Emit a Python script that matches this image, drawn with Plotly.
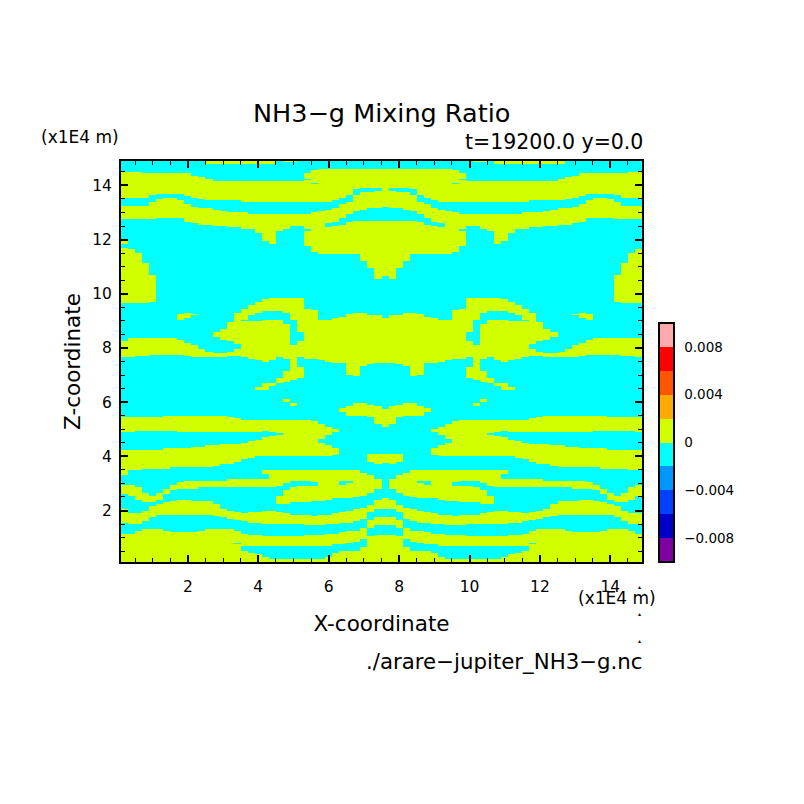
import numpy as np
import plotly.graph_objects as go

# --- data ---
# column centres along X (x1E4 m); each list below is one column, top to bottom,
# as pairs of Z values (top, bottom) between which the field is above zero
x_columns = [round(0.2 + 0.2 * i, 1) for i in range(74)]

yellow_spans = [
    [14.48,13.57, 13.26,12.77, 11.93,11.87, 11.72,9.65, 8.27,7.66, 5.46,4.91, 4.26,3.31, 2.97,2.59, 2.05,1.54, 1.16,0.1],
    [14.48,13.57, 13.26,12.77, 11.66,9.65, 8.33,7.67, 5.46,4.92, 4.24,3.48, 2.97,2.53, 1.91,1.48, 1.17,0.1],
    [14.48,13.57, 13.26,12.77, 11.48,9.65, 8.36,7.68, 5.46,4.93, 4.23,3.52, 2.87,2.38, 1.91,1.51, 1.24,0.1],
    [14.46,13.57, 13.26,12.77, 11.13,9.65, 8.36,7.71, 5.46,4.94, 4.24,3.55, 2.63,2.30, 1.99,1.58, 1.28,0.1],
    [14.46,13.66, 13.41,12.77, 10.70,9.71, 8.36,7.74, 5.46,4.94, 4.26,3.55, 2.53,2.28, 2.14,1.75, 1.31,0.1],
    [14.46,13.72, 13.52,12.79, 8.36,7.77, 5.47,4.96, 4.27,3.56, 2.63,2.41, 2.23,1.83, 1.30,0.1],
    [14.46,13.72, 13.55,12.78, 8.36,7.77, 5.49,4.94, 4.28,3.56, 2.81,2.59, 2.31,1.86, 1.27,0.1],
    [14.46,13.72, 13.55,12.78, 8.36,7.77, 5.49,4.93, 4.29,3.58, 2.94,2.73, 2.36,1.86, 1.22,0.1],
    [14.46,13.72, 13.47,12.78, 9.25,9.07, 8.30,7.76, 5.49,4.92, 4.30,3.59, 3.06,2.78, 2.38,1.86, 1.20,0.1],
    [14.43,13.60, 13.32,12.67, 9.28,9.10, 8.20,7.71, 5.49,4.92, 4.32,3.59, 3.08,2.80, 2.38,1.86, 1.20,0.1],
    [14.36,13.53, 13.19,12.62, 9.25,9.18, 8.09,7.66, 5.49,4.92, 4.34,3.60, 3.10,2.81, 2.37,1.86, 1.22,0.1],
    [14.29,13.48, 13.16,12.57, 7.93,7.63, 5.49,4.92, 4.37,3.61, 3.11,2.83, 2.36,1.86, 1.26,0.1],
    [14.9,14.82, 14.24,13.47, 13.13,12.54, 7.85,7.63, 5.49,4.92, 4.38,3.61, 3.11,2.83, 2.34,1.85, 1.30,0.1],
    [14.9,14.8, 14.17,13.47, 13.10,12.51, 8.60,8.42, 7.80,7.66, 5.49,4.92, 4.40,3.65, 3.12,2.83, 2.25,1.81, 1.30,0.1],
    [14.9,14.8, 14.17,13.46, 13.07,12.49, 8.69,8.32, 7.79,7.67, 5.49,4.92, 4.43,3.68, 3.12,2.83, 2.06,1.74, 1.30,0.1],
    [14.9,14.8, 14.17,13.46, 13.02,12.46, 8.94,8.25, 7.83,7.68, 5.44,4.92, 4.45,3.70, 3.13,2.83, 1.99,1.69, 1.29,0.1],
    [14.9,14.8, 14.17,13.43, 13.00,12.45, 9.28,8.14, 7.93,7.68, 5.40,4.92, 4.46,3.80, 3.13,2.85, 1.94,1.64, 1.25,0.82, 0.74,0.1],
    [14.9,14.8, 14.17,13.41, 12.98,12.42, 9.43,9.06, 9.00,7.64, 5.36,4.92, 4.49,3.89, 3.15,2.86, 1.91,1.58, 1.17,0.68, 0.51,0.1],
    [14.9,14.8, 14.17,13.41, 12.97,12.40, 9.62,9.18, 9.01,7.60, 5.35,4.92, 4.53,3.97, 3.15,2.87, 1.93,1.56, 1.12,0.68, 0.47,0.1],
    [14.9,14.8, 14.17,13.41, 12.95,12.26, 9.71,9.28, 9.02,7.55, 6.55,6.47, 5.34,4.92, 4.60,4.00, 3.15,2.87, 1.95,1.53, 1.09,0.68, 0.41,0.1],
    [14.9,14.8, 14.17,13.41, 12.94,11.93, 9.81,9.36, 9.04,7.52, 6.69,6.47, 5.34,4.93, 4.70,4.01, 3.52,3.37, 3.15,2.87, 1.99,1.52, 1.06,0.71, 0.29,0.1],
    [14.9,14.8, 14.17,13.41, 12.93,11.87, 9.86,9.37, 9.06,7.55, 6.72,6.60, 5.34,4.91, 4.76,4.02, 3.52,2.87, 2.01,1.51, 1.05,0.72, 0.20,0.1],
    [14.17,13.41, 12.93,12.30, 9.86,9.37, 9.06,7.65, 6.88,6.72, 5.34,4.86, 4.81,4.02, 3.52,2.90, 2.57,2.26, 1.94,1.50, 1.03,0.72, 0.20,0.1],
    [14.9,14.85, 14.17,13.41, 12.93,12.42, 9.86,9.32, 8.91,7.58, 7.15,6.76, 6.08,6.02, 5.34,4.02, 3.52,3.02, 2.75,2.26, 1.88,1.50, 1.03,0.72, 0.20,0.1],
    [14.9,14.85, 14.17,13.41, 12.93,12.49, 9.86,9.04, 8.11,6.79, 5.93,5.87, 5.34,4.02, 3.52,3.10, 2.87,2.28, 1.85,1.48, 1.03,0.72, 0.20,0.1],
    [14.17,13.41, 12.93,12.51, 9.86,8.61, 8.24,7.64, 7.31,6.90, 5.34,4.02, 3.52,3.10, 2.90,2.30, 1.85,1.48, 1.05,0.72, 0.20,0.1],
    [14.43,14.27, 14.19,13.41, 12.95,12.42, 12.30,11.75, 9.46,7.62, 5.33,4.02, 3.52,3.10, 2.90,2.31, 1.83,1.47, 1.08,0.71, 0.20,0.1],
    [14.56,14.09, 14.03,13.41, 13.00,11.56, 9.41,7.58, 5.28,4.02, 3.52,3.07, 2.90,2.33, 1.81,1.46, 1.10,0.70, 0.20,0.1],
    [14.58,13.41, 13.04,11.44, 9.04,7.55, 5.22,4.67, 4.51,4.02, 3.52,2.37, 1.83,1.45, 1.12,0.68, 0.20,0.1],
    [14.58,13.41, 13.08,12.58, 12.46,11.44, 9.07,7.51, 5.12,4.82, 4.39,4.02, 3.52,2.39, 1.85,1.51, 1.15,0.71, 0.32,0.1],
    [14.58,13.43, 13.13,12.66, 12.49,11.44, 9.10,7.47, 5.01,4.92, 4.29,4.05, 3.52,2.43, 1.89,1.52, 1.17,0.73, 0.45,0.1],
    [14.58,13.53, 13.32,12.79, 12.56,11.44, 9.16,7.43, 5.79,5.65, 3.52,3.11, 2.97,2.46, 1.94,1.53, 1.21,0.77, 0.51,0.1],
    [14.58,13.66, 13.41,12.95, 12.63,11.44, 9.26,7.00, 5.86,5.52, 3.52,3.10, 2.99,2.47, 1.99,1.54, 1.25,0.82, 0.51,0.1],
    [14.58,13.84, 13.63,13.05, 12.68,11.44, 9.32,6.94, 5.93,5.52, 3.48,2.49, 2.04,1.59, 1.27,0.87, 0.51,0.1],
    [14.58,13.88, 13.74,13.10, 12.70,11.19, 9.28,7.35, 5.93,5.52, 3.40,2.53, 2.10,1.69, 1.35,0.95, 0.66,0.1],
    [14.58,13.88, 13.77,13.13, 12.70,10.95, 9.22,7.41, 5.89,5.44, 4.11,3.82, 3.31,2.63, 2.22,1.96, 1.67,1.33, 1.03,0.1],
    [14.58,13.88, 13.78,13.15, 12.70,10.55, 9.20,7.46, 5.84,5.22, 4.11,3.70, 3.15,2.81, 2.38,2.05, 1.77,1.43, 1.12,0.1],
    [14.60,13.18, 12.70,10.66, 9.10,7.46, 5.77,5.09, 4.11,3.73, 2.47,2.05, 1.77,1.43, 1.12,0.1],
    [14.58,13.88, 13.78,13.15, 12.70,10.55, 9.20,7.46, 5.84,5.22, 4.11,3.70, 3.15,2.81, 2.38,2.05, 1.77,1.43, 1.12,0.1],
    [14.58,13.88, 13.77,13.13, 12.70,10.95, 9.22,7.41, 5.89,5.44, 4.11,3.82, 3.31,2.63, 2.22,1.96, 1.67,1.33, 1.03,0.1],
    [14.58,13.88, 13.74,13.10, 12.70,11.19, 9.28,7.35, 5.93,5.52, 3.40,2.53, 2.10,1.69, 1.35,0.95, 0.66,0.1],
    [14.58,13.84, 13.63,13.05, 12.68,11.44, 9.32,6.94, 5.93,5.52, 3.48,2.49, 2.04,1.59, 1.27,0.87, 0.51,0.1],
    [14.58,13.66, 13.41,12.95, 12.63,11.44, 9.26,7.00, 5.86,5.52, 3.52,3.10, 2.99,2.47, 1.99,1.54, 1.25,0.82, 0.51,0.1],
    [14.58,13.53, 13.32,12.79, 12.56,11.44, 9.16,7.43, 5.79,5.65, 3.52,3.11, 2.97,2.46, 1.94,1.53, 1.21,0.77, 0.51,0.1],
    [14.58,13.43, 13.13,12.66, 12.49,11.44, 9.10,7.47, 5.01,4.92, 4.29,4.05, 3.52,2.43, 1.89,1.52, 1.17,0.73, 0.45,0.1],
    [14.58,13.41, 13.08,12.58, 12.46,11.44, 9.07,7.51, 5.12,4.82, 4.39,4.02, 3.52,2.39, 1.85,1.51, 1.15,0.71, 0.32,0.1],
    [14.58,13.41, 13.04,11.44, 9.04,7.55, 5.22,4.67, 4.51,4.02, 3.52,2.37, 1.83,1.45, 1.12,0.68, 0.20,0.1],
    [14.56,14.09, 14.03,13.41, 13.00,11.56, 9.41,7.58, 5.28,4.02, 3.52,3.07, 2.90,2.33, 1.81,1.46, 1.10,0.70, 0.20,0.1],
    [14.43,14.27, 14.19,13.41, 12.95,12.42, 12.30,11.75, 9.46,7.62, 5.33,4.02, 3.52,3.10, 2.90,2.31, 1.83,1.47, 1.08,0.71, 0.20,0.1],
    [14.17,13.41, 12.93,12.51, 9.86,8.61, 8.24,7.64, 7.31,6.90, 5.34,4.02, 3.52,3.10, 2.90,2.30, 1.85,1.48, 1.05,0.72, 0.20,0.1],
    [14.9,14.85, 14.17,13.41, 12.93,12.49, 9.86,9.04, 8.11,6.79, 5.93,5.87, 5.34,4.02, 3.52,3.10, 2.87,2.28, 1.85,1.48, 1.03,0.72, 0.20,0.1],
    [14.9,14.85, 14.17,13.41, 12.93,12.42, 9.86,9.32, 8.91,7.58, 7.15,6.76, 6.08,6.02, 5.34,4.02, 3.52,3.02, 2.75,2.26, 1.88,1.50, 1.03,0.72, 0.20,0.1],
    [14.17,13.41, 12.93,12.30, 9.86,9.37, 9.06,7.65, 6.88,6.72, 5.34,4.86, 4.81,4.02, 3.52,2.90, 2.57,2.26, 1.94,1.50, 1.03,0.72, 0.20,0.1],
    [14.9,14.8, 14.17,13.41, 12.93,11.87, 9.86,9.37, 9.06,7.55, 6.72,6.60, 5.34,4.91, 4.76,4.02, 3.52,2.87, 2.01,1.51, 1.05,0.72, 0.20,0.1],
    [14.9,14.8, 14.17,13.41, 12.94,11.93, 9.81,9.36, 9.04,7.52, 6.69,6.47, 5.34,4.93, 4.70,4.01, 3.52,3.37, 3.15,2.87, 1.99,1.52, 1.06,0.71, 0.29,0.1],
    [14.9,14.8, 14.17,13.41, 12.95,12.26, 9.71,9.28, 9.02,7.55, 6.55,6.47, 5.34,4.92, 4.60,4.00, 3.15,2.87, 1.95,1.53, 1.09,0.68, 0.41,0.1],
    [14.9,14.8, 14.17,13.41, 12.97,12.40, 9.62,9.18, 9.01,7.60, 5.35,4.92, 4.53,3.97, 3.15,2.87, 1.93,1.56, 1.12,0.68, 0.47,0.1],
    [14.9,14.8, 14.17,13.41, 12.98,12.42, 9.43,9.06, 9.00,7.64, 5.36,4.92, 4.49,3.89, 3.15,2.86, 1.91,1.58, 1.17,0.68, 0.51,0.1],
    [14.9,14.8, 14.17,13.43, 13.00,12.45, 9.28,8.14, 7.93,7.68, 5.40,4.92, 4.46,3.80, 3.13,2.85, 1.94,1.64, 1.25,0.82, 0.74,0.1],
    [14.9,14.8, 14.17,13.46, 13.02,12.46, 8.94,8.25, 7.83,7.68, 5.44,4.92, 4.45,3.70, 3.13,2.83, 1.99,1.69, 1.29,0.1],
    [14.9,14.8, 14.17,13.46, 13.07,12.49, 8.69,8.32, 7.79,7.67, 5.49,4.92, 4.43,3.68, 3.12,2.83, 2.06,1.74, 1.30,0.1],
    [14.9,14.8, 14.17,13.47, 13.10,12.51, 8.60,8.42, 7.80,7.66, 5.49,4.92, 4.40,3.65, 3.12,2.83, 2.25,1.81, 1.30,0.1],
    [14.9,14.82, 14.24,13.47, 13.13,12.54, 7.85,7.63, 5.49,4.92, 4.38,3.61, 3.11,2.83, 2.34,1.85, 1.30,0.1],
    [14.29,13.48, 13.16,12.57, 7.93,7.63, 5.49,4.92, 4.37,3.61, 3.11,2.83, 2.36,1.86, 1.26,0.1],
    [14.36,13.53, 13.19,12.62, 9.25,9.18, 8.09,7.66, 5.49,4.92, 4.34,3.60, 3.10,2.81, 2.37,1.86, 1.22,0.1],
    [14.43,13.60, 13.32,12.67, 9.28,9.10, 8.20,7.71, 5.49,4.92, 4.32,3.59, 3.08,2.80, 2.38,1.86, 1.20,0.1],
    [14.46,13.72, 13.47,12.78, 9.25,9.07, 8.30,7.76, 5.49,4.92, 4.30,3.59, 3.06,2.78, 2.38,1.86, 1.20,0.1],
    [14.46,13.72, 13.55,12.78, 8.36,7.77, 5.49,4.93, 4.29,3.58, 2.94,2.73, 2.36,1.86, 1.22,0.1],
    [14.46,13.72, 13.55,12.78, 8.36,7.77, 5.49,4.94, 4.28,3.56, 2.81,2.59, 2.31,1.86, 1.27,0.1],
    [14.46,13.72, 13.52,12.79, 8.36,7.77, 5.47,4.96, 4.27,3.56, 2.63,2.41, 2.23,1.83, 1.30,0.1],
    [14.46,13.66, 13.41,12.77, 10.70,9.71, 8.36,7.74, 5.46,4.94, 4.26,3.55, 2.53,2.28, 2.14,1.75, 1.31,0.1],
    [14.46,13.57, 13.26,12.77, 11.13,9.65, 8.36,7.71, 5.46,4.94, 4.24,3.55, 2.63,2.30, 1.99,1.58, 1.28,0.1],
    [14.48,13.57, 13.26,12.77, 11.48,9.65, 8.36,7.68, 5.46,4.93, 4.23,3.52, 2.87,2.38, 1.91,1.51, 1.24,0.1],
    [14.48,13.57, 13.26,12.77, 11.66,9.65, 8.33,7.67, 5.46,4.92, 4.24,3.48, 2.97,2.53, 1.91,1.48, 1.17,0.1],
]

value_below = -0.001
value_above = 0.001

level_colors = ["#7d00a0", "#0000c8", "#0040ff", "#0096ff", "#00ffff",
                "#d2ff00", "#ffaa00", "#ff5500", "#ff0000", "#ffaaaa"]
colorbar_ticks = [-0.008, -0.004, 0, 0.004, 0.008]
colorbar_labels = ["−0.008", "−0.004", "0", "0.004", "0.008"]
axis_ticks = [2, 4, 6, 8, 10, 12, 14]

# --- grid ---
z_rows = np.arange(0.125, 14.9, 0.05)
grid = np.full((len(z_rows), len(x_columns)), value_below)
for j, spans in enumerate(yellow_spans):
    for hi, lo in zip(spans[0::2], spans[1::2]):
        grid[(z_rows <= hi) & (z_rows >= lo), j] = value_above

# stepped colour scale, one band per level
n = len(level_colors)
colorscale = []
for i, col in enumerate(level_colors):
    colorscale.append([i / n, col])
    colorscale.append([(i + 1) / n, col])

FONT = "DejaVu Sans"

fig = go.Figure(
    go.Heatmap(
        x=x_columns,
        y=z_rows,
        z=grid,
        zmin=-0.01,
        zmax=0.01,
        colorscale=colorscale,
        colorbar=dict(
            x=1.0326,
            xanchor="left",
            xpad=0,
            y=0,
            yanchor="bottom",
            ypad=0,
            len=0.595,
            thickness=15,
            outlinewidth=2,
            outlinecolor="black",
            tickmode="array",
            tickvals=colorbar_ticks,
            ticktext=colorbar_labels,
            ticks="outside",
            ticklen=7,
            tickcolor="rgba(0,0,0,0)",
            tickfont=dict(family=FONT, size=13.5, color="black"),
        ),
    )
)

axis_style = dict(
    range=[0.1, 14.9],
    tickmode="array",
    tickvals=axis_ticks,
    ticks="inside",
    ticklen=7,
    tickwidth=2,
    tickcolor="black",
    showline=True,
    linewidth=2,
    linecolor="black",
    mirror="ticks",
    showgrid=False,
    zeroline=False,
    tickfont=dict(family=FONT, size=15.5, color="black"),
    minor=dict(ticks="inside", ticklen=4, tickwidth=1, tickcolor="black", dtick=0.5, tick0=0, showgrid=False),
)

fig.update_xaxes(
    **axis_style,
    ticklabelstandoff=9,
    title=dict(text="X-coordinate", standoff=21, font=dict(family=FONT, size=21.5, color="black")),
)
fig.update_yaxes(
    **axis_style,
    ticklabelstandoff=4,
    title=dict(text="Z-coordinate", standoff=6, font=dict(family=FONT, size=21.5, color="black")),
)


def label(text, x, y, size, xanchor="left", yanchor="middle"):
    fig.add_annotation(
        text=text, xref="paper", yref="paper", x=x, y=y, showarrow=False,
        xanchor=xanchor, yanchor=yanchor, xshift=0, yshift=0,
        font=dict(family=FONT, size=size, color="black"),
    )


# positions as fractions of the plot box
label("NH3−g Mixing Ratio", 0.5, 1.12, 25.5, xanchor="center")
label("t=19200.0 y=0.0", 1.006, 1.048, 20.5, xanchor="right")
label("(x1E4 m)", -0.158, 1.06, 17)
label("(x1E4 m)", 1.03, -0.09, 17, xanchor="right")
label("./arare−jupiter_NH3−g.nc", 1.006, -0.249, 21.3, xanchor="right")
for y in [-0.062, -0.128, -0.195]:
    label("▴", 0.996, y, 6, xanchor="center")

fig.update_layout(
    width=796,
    height=796,
    autosize=False,
    margin=dict(l=113, r=162, t=153, b=242),
    paper_bgcolor="white",
    plot_bgcolor="white",
    showlegend=False,
)

fig.write_html("out.html")
